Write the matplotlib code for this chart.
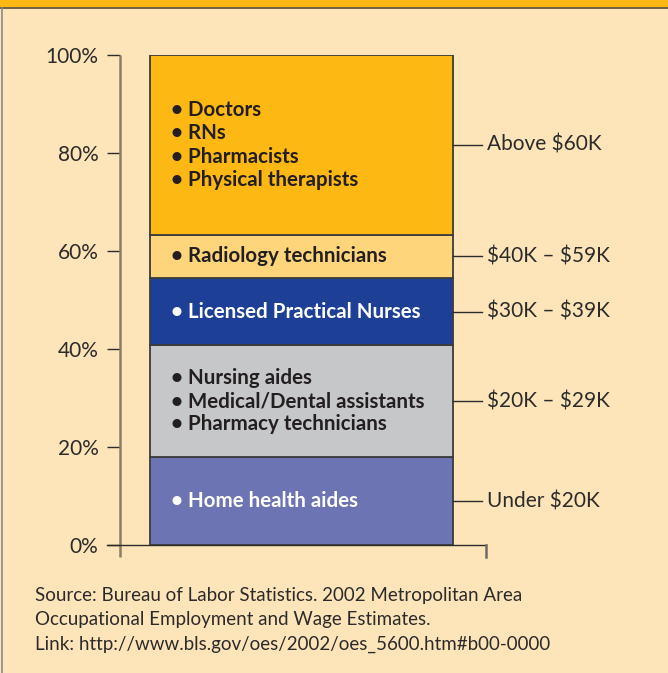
"""Stacked wage-band bar for healthcare occupations (BLS 2002)."""

import matplotlib
matplotlib.use("Agg")
import matplotlib.pyplot as plt
from matplotlib.lines import Line2D
from matplotlib.patches import Rectangle

# Data: share of bar (percent), bottom to top
SHARES = [17.9, 22.9, 13.7, 8.8, 36.7]
WAGE_BANDS = [r"Under \$20K", r"\$20K – \$29K", r"\$30K – \$39K", r"\$40K – \$59K", r"Above \$60K"]
OCCUPATIONS = [
    ["Home health aides"],
    ["Nursing aides", "Medical/Dental assistants", "Pharmacy technicians"],
    ["Licensed Practical Nurses"],
    ["Radiology technicians"],
    ["Doctors", "RNs", "Pharmacists", "Physical therapists"],
]
YTICKS = [0, 20, 40, 60, 80, 100]
SOURCE = ("Source: Bureau of Labor Statistics. 2002 Metropolitan Area\n"
          "Occupational Employment and Wage Estimates.\n"
          "Link: http://www.bls.gov/oes/2002/oes_5600.htm#b00-0000")

# Styles
SEG_COLORS = ["#6d74b4", "#c6c7c9", "#1e3f96", "#fed57a", "#fdb813"]
TXT_COLORS = ["white", "#231f20", "white", "#231f20", "#231f20"]
BG = "#fee5b9"
DARK = "#2b2b2b"
FONT = ["Lato", "DejaVu Sans"]

plt.rcParams["font.family"] = FONT

W, H = 668, 673
fig = plt.figure(figsize=(W / 100, H / 100), dpi=100, facecolor=BG)

# frame: orange top band + thin left border
fig.patches.append(Rectangle((0, 1 - 7 / H), 1, 7 / H, transform=fig.transFigure,
                             facecolor="#fdb813", edgecolor="none", zorder=0))
fig.lines.append(Line2D([0, 1], [1 - 7.5 / H] * 2, transform=fig.transFigure,
                        color="#5a4a2a", lw=1.2))
fig.lines.append(Line2D([2 / W] * 2, [0, 1 - 7.5 / H], transform=fig.transFigure,
                        color="#8a8a8a", lw=1.2))

# axes: y spine at x=120px, 0% at y=545px, 100% at y=55px
ax_l, ax_r = 120 / W, 486 / W
ax_b, ax_t = (H - 545) / H, (H - 55) / H
ax = fig.add_axes([ax_l, ax_b, ax_r - ax_l, ax_t - ax_b])
ax.set_facecolor("none")
ax.set_xlim(-0.599, 0.609)
ax.set_ylim(0, 100)
for s in ax.spines.values():
    s.set_visible(False)
ax.set_xticks([])
ax.set_yticks(YTICKS)
ax.set_yticklabels([f"{t}%" for t in YTICKS], fontsize=15, color="#2b2b2b")
ax.tick_params(axis="y", direction="out", length=9.4, width=1.0, color=DARK, pad=6)

# custom spines that overshoot like the original
px_x = 1.208 / 366  # data units per pixel (x)
px_y = 100 / 490    # data units per pixel (y)
ax.plot([-0.599, -0.599], [-12 * px_y, 100], color="#8b7d66", lw=1.8,
        clip_on=False, solid_capstyle="butt")
ax.plot([-0.599 - 13 * px_x, 0.609], [0, 0], color=DARK, lw=1.0, clip_on=False)
ax.plot([0.609, 0.609], [0, -12 * px_y], color="#6b6b6b", lw=1.8, clip_on=False)

bottom = 0
for share, color, tcol, occ, band in zip(SHARES, SEG_COLORS, TXT_COLORS, OCCUPATIONS, WAGE_BANDS):
    ax.bar(0, share, width=1.0, bottom=bottom, color=color, edgecolor="#3b3b3b",
           linewidth=1.3, zorder=2)
    mid = bottom + share / 2
    ax.text(-0.43, mid, "\n".join("• " + o for o in occ), ha="left", va="center",
            fontsize=14.8, fontweight="bold", color=tcol, linespacing=1.2, zorder=3)
    ax.plot([0.5, 0.595], [mid, mid], color=DARK, lw=1.0, clip_on=False)
    ax.text(0.613, mid, band, ha="left", va="center", fontsize=15, color="#2b2b2b",
            clip_on=False)
    bottom += share

fig.text(35 / W, 1 - 620 / H, SOURCE, ha="left", va="center", fontsize=13.5,
         color="#2b2b2b", linespacing=1.5)

fig.savefig("out.png", dpi=100, facecolor=BG)
